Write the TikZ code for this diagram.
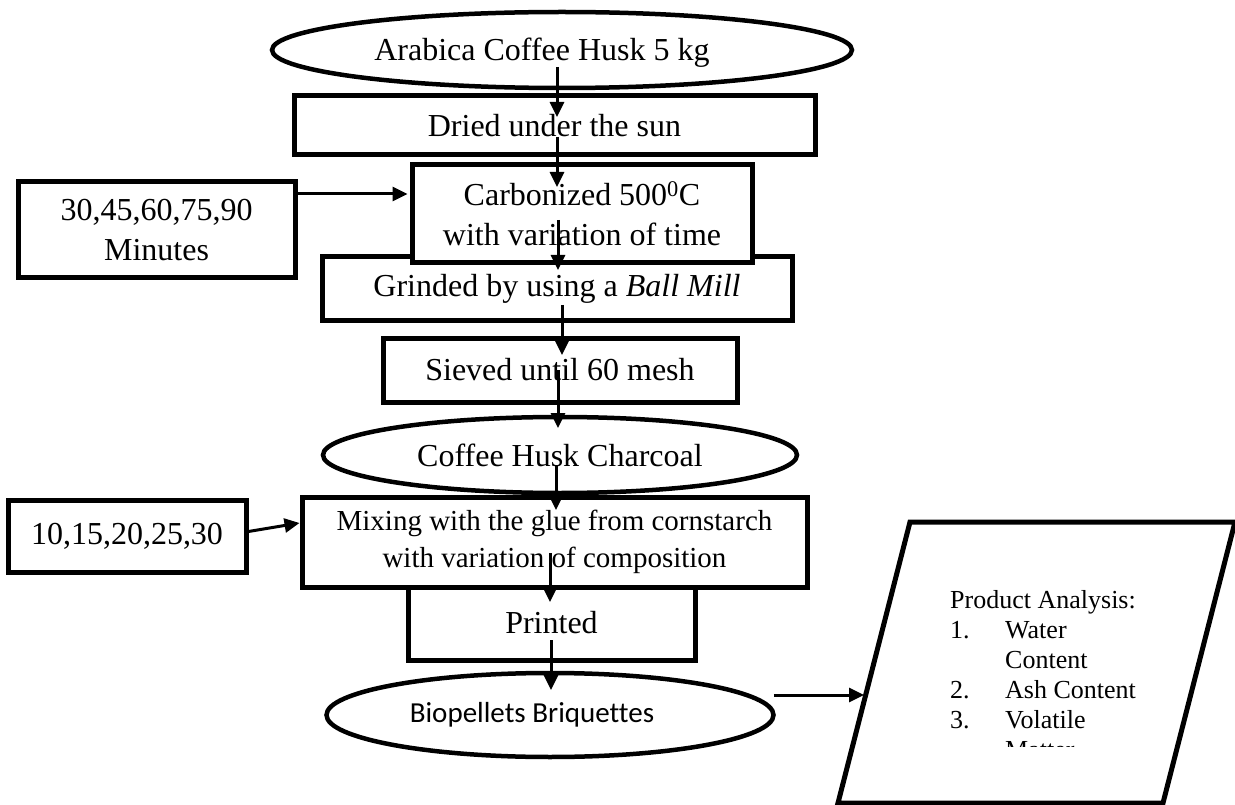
\documentclass[tikz,border=0pt]{standalone}
\usepackage{fontspec}
\setmainfont{Liberation Serif}
\newfontfamily\calibrifont[Ligatures=NoCommon]{Carlito}
\usetikzlibrary{arrows.meta,shapes.geometric,calc}
\newcommand\flowsize{\fontsize{32}{40}\selectfont}
\newcommand\mixsize{\fontsize{29}{37}\selectfont}
\newcommand\listsize{\fontsize{26}{30}\selectfont}
\tikzset{
  box/.style={draw,line width=5pt,fill=white,inner sep=0pt,align=center},
  oval/.style={ellipse,draw,line width=4.5pt,fill=white,inner sep=0pt},
  arr/.style={line width=3pt,-{Triangle[length=15pt,width=14pt]}}
}
\begin{document}
\begin{tikzpicture}[x=1pt,y=-1pt,font=\flowsize]
\useasboundingbox (0,0) rectangle (1235,805);
\node[oval,minimum width=580pt,minimum height=76pt,label={[xshift=-20pt,yshift=-3pt]center:Arabica Coffee Husk 5 kg}] (husk) at (562,50) {};
\node[box,minimum width=521pt,minimum height=59pt] (dry) at (554.5,125.5) {Dried under the sun};
\node[box,minimum width=470pt,minimum height=63pt] (grind) at (557,288.5) {Grinded by using a \textit{Ball Mill}};
\node[box,minimum width=340pt,minimum height=98pt] (carb) at (582,214) {Carbonized 500\textsuperscript{0}C\\with variation of time};
\node[box,minimum width=277pt,minimum height=96pt] (tvar) at (156.5,230) {30,45,60,75,90\\Minutes};
\node[box,minimum width=354pt,minimum height=64pt] (sieve) at (560,370) {Sieved until 60 mesh};
\node[oval,minimum width=474pt,minimum height=76pt] (char) at (560,455) {Coffee Husk Charcoal};
\node[box,minimum width=287pt,minimum height=75pt] (print) at (551.5,622.5) {Printed};
\node[box,minimum width=505pt,minimum height=90pt,font=\mixsize] (mix) at (554.5,542) {Mixing with the glue from cornstarch\\with variation of composition};
\node[box,minimum width=238pt,minimum height=72pt] (cvar) at (127,536) {10,15,20,25,30};
\node[oval,minimum width=447pt,minimum height=84pt,label={[xshift=-18pt,font=\calibrifont\fontsize{29}{35}\selectfont]center:Biopellets Briquettes}] (bio) at (550,715) {};
\draw[line width=5pt] (910,522) -- (1235,522) -- (1163,803) -- (838,803) -- cycle;
\coordinate (pin) at (864,695);
\begin{scope}
\clip (840,530) rectangle (1230,746);
\node[anchor=north west,inner sep=0pt,font=\listsize] (ana) at (950,587) {\begin{tabular}{@{}p{55pt}@{}l@{}}\multicolumn{2}{@{}l@{}}{Product Analysis:}\\1.&Water\\&Content\\2.&Ash Content\\3.&Volatile\\&Matter\end{tabular}};
\end{scope}
\draw[arr] ($(husk.center)+(-5,17)$) -- ($(dry.center)+(2.5,-8.5)$);
\draw[arr] ($(dry.center)+(2.5,11.5)$) -- ($(carb.center)+(-25,-27)$);
\draw[arr] ($(tvar.east)+(0,-36)$) -- ($(carb.west)+(-2,-20)$);
\draw[arr] ($(carb.center)+(-24,6)$) -- ($(grind.center)+(1,-18.5)$);
\draw[arr] ($(grind.center)+(5,16.5)$) -- ($(sieve.center)+(2,-15)$);
\draw[arr] ($(sieve.center)+(-2,0)$) -- ($(char.center)+(-2,-27)$);
\draw[arr] ($(char.center)+(-4,10)$) -- ($(mix.center)+(1.5,-32)$);
\draw[arr] ($(cvar.east)+(-3,-4)$) -- ($(mix.west)+(0,-19)$);
\draw[arr] ($(mix.center)+(-4.5,11)$) -- ($(print.center)+(-1.5,-20.5)$);
\draw[arr] ($(print.center)+(-0.5,17.5)$) -- ($(bio.center)+(1,-25)$);
\draw[arr] ($(bio.east)+(-2,-20)$) -- (pin);
\end{tikzpicture}
\end{document}
